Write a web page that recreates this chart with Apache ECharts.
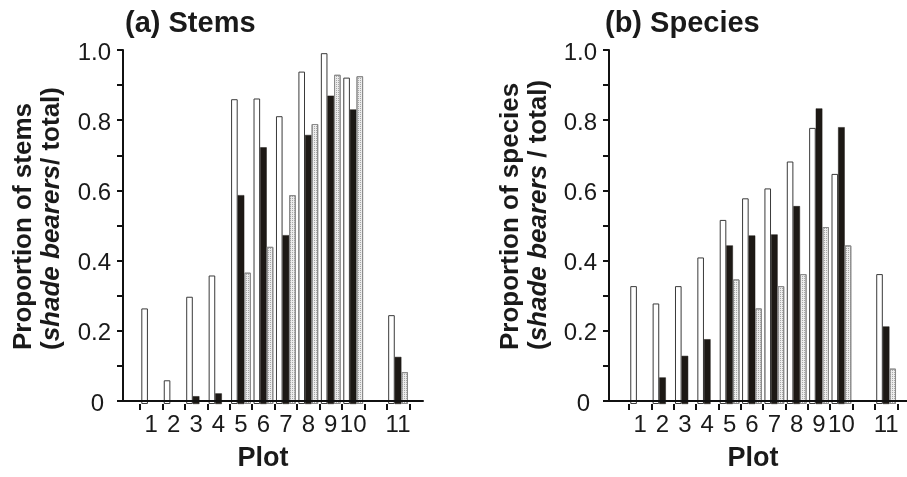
<!DOCTYPE html>
<html><head><meta charset="utf-8">
<script src="https://cdn.jsdelivr.net/npm/echarts@6/dist/echarts.min.js"></script>
<style>html,body{margin:0;padding:0;background:#fff}#c{width:907px;height:477px}</style>
</head><body><div id="c"></div>
<script>
const plots = ['1','2','3','4','5','6','7','8','9','10','','11'];
const yTickLabels = {0:'0',2:'0.2',4:'0.4',6:'0.6',8:'0.8',10:'1.0'};
// null = no bar drawn (zero / absent)
const stemsOpen   = [0.270,0.067,0.303,0.363,0.861,0.863,0.813,0.939,0.991,0.922,null,0.251];
const stemsBlack  = [null,null,0.022,0.030,0.590,0.725,0.477,0.760,0.871,0.832,null,0.133];
const stemsDotted = [null,null,null,null,0.371,0.444,0.590,0.791,0.930,0.926,null,0.090];
const speciesOpen   = [0.333,0.284,0.333,0.414,0.520,0.581,0.609,0.685,0.780,0.650,null,0.367];
const speciesBlack  = [null,0.075,0.136,0.183,0.448,0.476,0.479,0.559,0.835,0.782,null,0.219];
const speciesDotted = [null,null,null,null,0.352,0.270,0.333,0.367,0.500,0.448,null,0.100];

const FONT = 'Arial, "Liberation Sans", sans-serif';
const TXT = '#1a1a1a';
const chart = echarts.init(document.getElementById('c'), null, {renderer:'canvas'});

function frameX(gi, padRight){
  return {gridIndex:gi, type:'value', min:0, max:1, z:10,
    axisLine:{show:true, onZero:false, lineStyle:{color:'#111', width:2}},
    axisTick:{show:false}, axisLabel:{show:false}, splitLine:{show:false},
    name:'Plot', nameLocation:'middle', nameGap:44,
    nameTextStyle:{fontFamily:FONT, fontSize:27, fontWeight:'bold', color:TXT, padding:[0,padRight,0,0]}};
}
function frameY(gi){
  return {gridIndex:gi, type:'value', min:0, max:1, interval:0.1, z:10,
    axisLine:{show:true, onZero:false, lineStyle:{color:'#111', width:2}},
    axisTick:{show:true, inside:false, length:6, lineStyle:{color:'#111', width:2}},
    axisLabel:{fontFamily:FONT, fontSize:24, color:TXT, margin:12, padding:[6,0,0,0],
      rich:{z:{fontFamily:FONT, fontSize:24, color:TXT, padding:[0,7,0,0]}},
      formatter: v => { const k = Math.round(v*10);
        if (k === 0) return '{z|' + yTickLabels[0] + '}';
        return yTickLabels[k] !== undefined ? yTickLabels[k] : ''; }},
    splitLine:{show:false}};
}
function catX(gi){
  return {gridIndex:gi, type:'category', data:plots, boundaryGap:true,
    axisLine:{show:false}, axisTick:{show:true, inside:false, length:6, interval:0, lineStyle:{color:'#111', width:2}},
    axisLabel:{fontFamily:FONT, fontSize:24, color:TXT, margin:9, interval:0}};
}
function hidY(gi){
  return {gridIndex:gi, type:'value', min:0, max:1, show:false, splitLine:{show:false}};
}
const decal = {symbol:'rect', symbolSize:1, color:'rgba(150,150,150,0.8)', dashArrayX:[1,1], dashArrayY:[1,1], rotation:0};
function bars(xi, open, black, dotted){
  const common = {type:'bar', xAxisIndex:xi, yAxisIndex:xi, barWidth:6.6, barGap:'0%'};
  return [
    Object.assign({}, common, {name:'Open', data:open, itemStyle:{color:'#fff', borderColor:'#3a3a3a', borderWidth:1}}),
    Object.assign({}, common, {name:'Black', data:black, itemStyle:{color:'#1d1915', borderColor:'#1d1915', borderWidth:0.5}}),
    Object.assign({}, common, {name:'Dotted', data:dotted, itemStyle:{color:'#ececec', borderColor:'#8a8a8a', borderWidth:1, decal:decal}})
  ];
}
const yTitle = (x, l1, l2b) => ({
  type:'text', x:x, y:350, rotation:Math.PI/2,
  style:{text:'{b|'+l1+'}\n{b|(}{bi|shade bearers}{b|'+l2b+'}',
    align:'left', verticalAlign:'middle',
    rich:{b:{fontFamily:FONT, fontSize:26, fontWeight:'bold', fill:TXT, lineHeight:28},
          bi:{fontFamily:FONT, fontSize:26, fontWeight:'bold', fontStyle:'italic', fill:TXT, lineHeight:28}}}
});

chart.setOption({
  animation:false,
  backgroundColor:'#fff',
  title:[
    {text:'(a) Stems', left:125, top:9, padding:0, textStyle:{fontFamily:FONT, fontSize:29, fontWeight:'bold', color:TXT}},
    {text:'(b) Species', left:605, top:9, padding:0, textStyle:{fontFamily:FONT, fontSize:29, fontWeight:'bold', color:TXT}}
  ],
  grid:[
    {left:123, right:484, top:50, bottom:73},
    {left:140, right:497.7, top:50, bottom:73},
    {left:609, right:0, top:50, bottom:73},
    {left:629, right:9.7, top:50, bottom:73}
  ],
  xAxis:[frameX(0,20), catX(1), frameX(2,10), catX(3)],
  yAxis:[frameY(0), hidY(1), frameY(2), hidY(3)],
  series:[].concat(bars(1, stemsOpen, stemsBlack, stemsDotted), bars(3, speciesOpen, speciesBlack, speciesDotted)),
  graphic:[
    yTitle(38, 'Proportion of stems', '/ total)'),
    yTitle(525, 'Proportion of species', ' / total)')
  ]
});
</script></body></html>
